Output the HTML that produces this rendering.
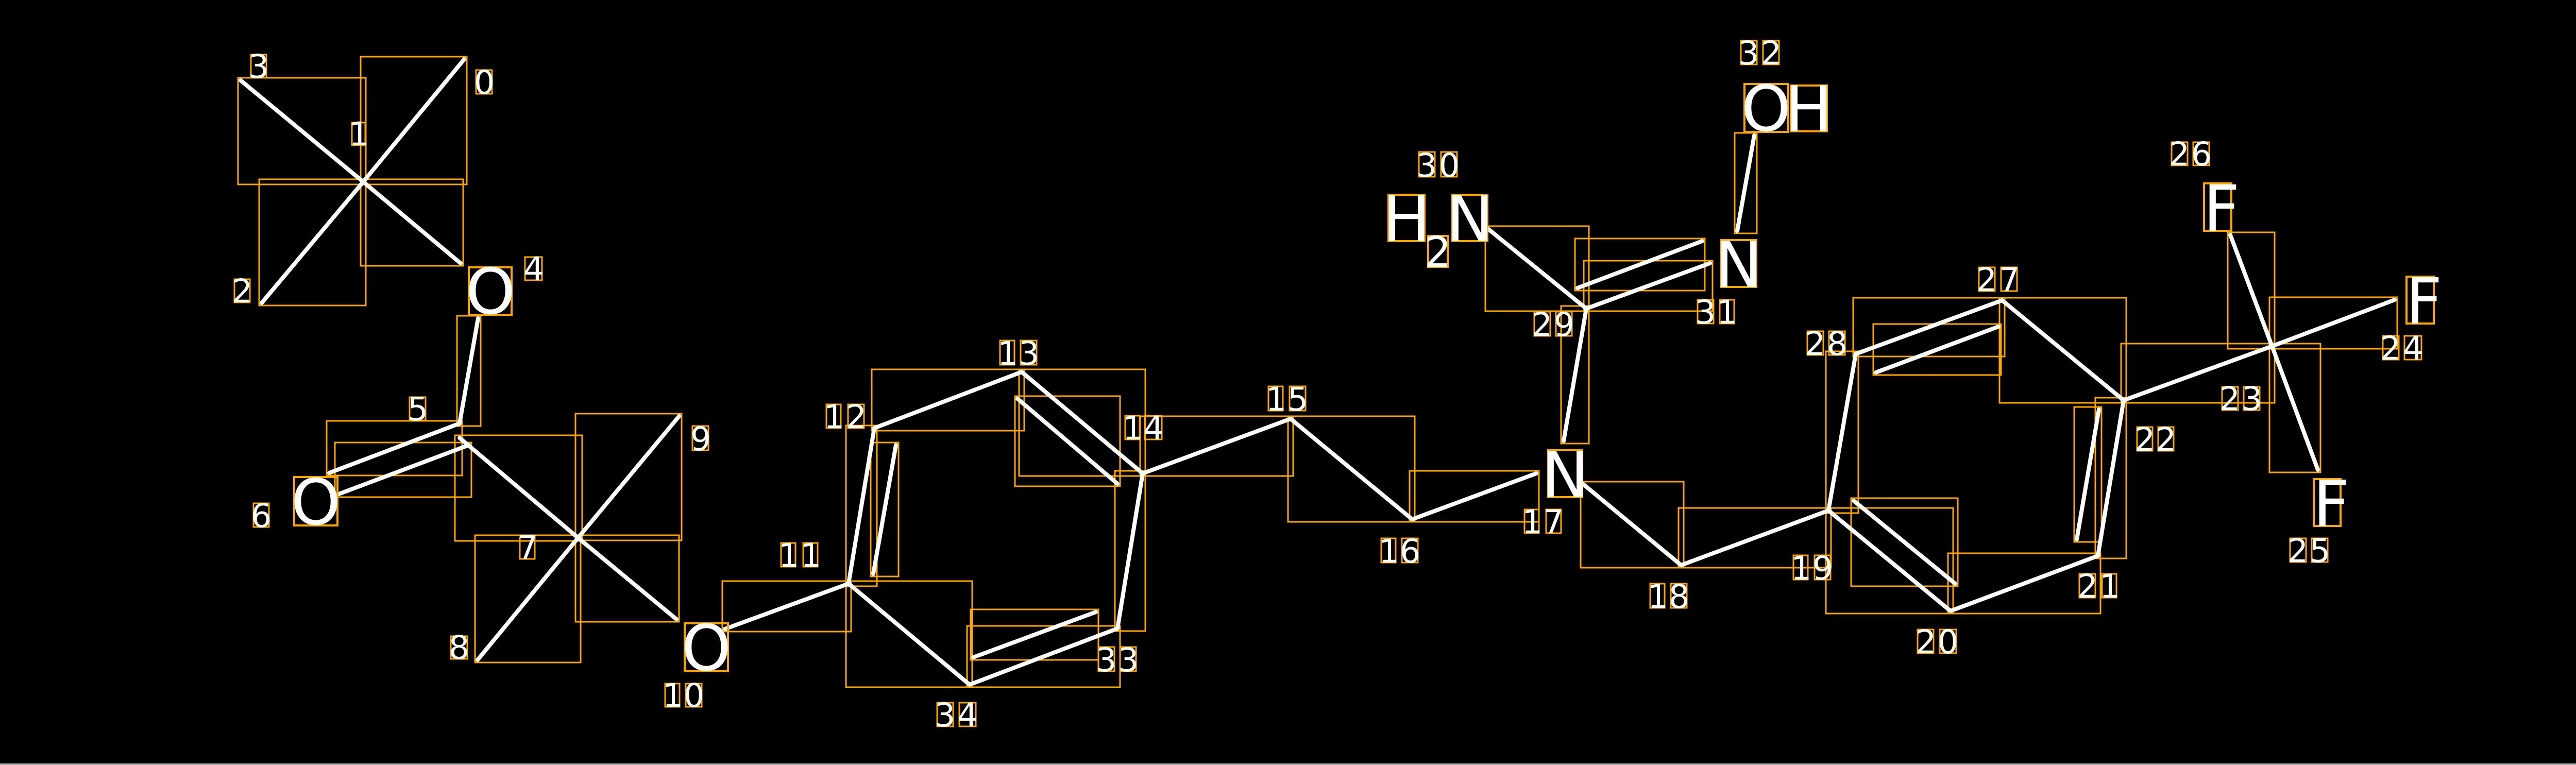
<!DOCTYPE html>
<html><head><meta charset="utf-8"><style>
html,body{margin:0;padding:0;background:#000;}
svg{display:block;}
text{font-family:"DejaVu Sans","Liberation Sans",sans-serif;fill:#fff;}
.d{font-size:63px;text-anchor:middle;}
.a{font-size:123px;text-anchor:middle;}
</style></head><body>
<svg width="5185" height="1485" viewBox="0 0 5185 1485" xmlns="http://www.w3.org/2000/svg">
<rect x="0" y="0" width="5185" height="1485" fill="#000"/>
<rect x="0" y="1482" width="5185" height="3" fill="#aaa"/>
<g fill="none" stroke="#FFA500" stroke-width="3">
<rect x="700" y="110" width="206" height="248"/>
<rect x="462" y="151" width="248" height="207"/>
<rect x="503" y="348" width="207" height="245"/>
<rect x="700" y="348" width="199" height="168"/>
<rect x="887" y="613" width="46" height="214"/>
<rect x="634" y="817" width="263" height="106"/>
<rect x="650" y="859" width="265" height="106"/>
<rect x="883" y="845" width="247" height="205"/>
<rect x="1117" y="803" width="206" height="246"/>
<rect x="922" y="1039" width="205" height="247"/>
<rect x="1117" y="1039" width="201" height="168"/>
<rect x="1402" y="1128" width="250" height="98"/>
<rect x="1642" y="826" width="60" height="312"/>
<rect x="1690" y="859" width="54" height="260"/>
<rect x="1692" y="717" width="296" height="119"/>
<rect x="1978" y="717" width="245" height="207"/>
<rect x="1970" y="769" width="204" height="175"/>
<rect x="2164" y="914" width="59" height="311"/>
<rect x="1877" y="1215" width="297" height="119"/>
<rect x="1884" y="1183" width="248" height="98"/>
<rect x="1642" y="1128" width="245" height="206"/>
<rect x="2213" y="808" width="297" height="116"/>
<rect x="2500" y="808" width="246" height="205"/>
<rect x="2736" y="914" width="251" height="99"/>
<rect x="3030" y="594" width="54" height="267"/>
<rect x="2883" y="439" width="201" height="165"/>
<rect x="3057" y="463" width="252" height="101"/>
<rect x="3074" y="506" width="250" height="98"/>
<rect x="3367" y="258" width="43" height="195"/>
<rect x="3068" y="935" width="200" height="167"/>
<rect x="3258" y="986" width="296" height="116"/>
<rect x="3544" y="682" width="63" height="314"/>
<rect x="3597" y="578" width="294" height="114"/>
<rect x="3636" y="629" width="248" height="99"/>
<rect x="3881" y="578" width="246" height="204"/>
<rect x="4067" y="772" width="60" height="312"/>
<rect x="4026" y="790" width="53" height="262"/>
<rect x="3781" y="1074" width="296" height="117"/>
<rect x="3544" y="986" width="247" height="205"/>
<rect x="3593" y="967" width="207" height="171"/>
<rect x="4117" y="667" width="298" height="115"/>
<rect x="4324" y="451" width="91" height="226"/>
<rect x="4405" y="577" width="248" height="100"/>
<rect x="4405" y="667" width="99" height="250"/>
</g>
<g stroke="#fff" stroke-width="8" stroke-linecap="round">
<line x1="705" y1="353" x2="901" y2="115"/>
<line x1="705" y1="353" x2="467" y2="156"/>
<line x1="705" y1="353" x2="508" y2="588"/>
<line x1="705" y1="353" x2="894" y2="511"/>
<line x1="928" y1="618" x2="892" y2="822"/>
<line x1="639" y1="918" x2="892" y2="822"/>
<line x1="655" y1="960" x2="910" y2="864"/>
<line x1="892" y1="850" x2="1122" y2="1044"/>
<line x1="1122" y1="1044" x2="1318" y2="808"/>
<line x1="1122" y1="1044" x2="927" y2="1281"/>
<line x1="1122" y1="1044" x2="1313" y2="1202"/>
<line x1="1407" y1="1221" x2="1647" y2="1133"/>
<line x1="1647" y1="1133" x2="1697" y2="831"/>
<line x1="1739" y1="864" x2="1695" y2="1114"/>
<line x1="1697" y1="831" x2="1983" y2="722"/>
<line x1="1983" y1="722" x2="2218" y2="919"/>
<line x1="1975" y1="774" x2="2169" y2="939"/>
<line x1="2218" y1="919" x2="2169" y2="1220"/>
<line x1="2169" y1="1220" x2="1882" y2="1329"/>
<line x1="2127" y1="1188" x2="1889" y2="1276"/>
<line x1="1882" y1="1329" x2="1647" y2="1133"/>
<line x1="2218" y1="919" x2="2505" y2="813"/>
<line x1="2505" y1="813" x2="2741" y2="1008"/>
<line x1="2741" y1="1008" x2="2982" y2="919"/>
<line x1="3035" y1="856" x2="3079" y2="599"/>
<line x1="3079" y1="599" x2="2888" y2="444"/>
<line x1="3062" y1="559" x2="3304" y2="468"/>
<line x1="3079" y1="599" x2="3319" y2="511"/>
<line x1="3372" y1="448" x2="3405" y2="263"/>
<line x1="3073" y1="940" x2="3263" y2="1097"/>
<line x1="3263" y1="1097" x2="3549" y2="991"/>
<line x1="3549" y1="991" x2="3602" y2="687"/>
<line x1="3602" y1="687" x2="3886" y2="583"/>
<line x1="3641" y1="723" x2="3879" y2="634"/>
<line x1="3886" y1="583" x2="4122" y2="777"/>
<line x1="4122" y1="777" x2="4072" y2="1079"/>
<line x1="4074" y1="795" x2="4031" y2="1047"/>
<line x1="4072" y1="1079" x2="3786" y2="1186"/>
<line x1="3786" y1="1186" x2="3549" y2="991"/>
<line x1="3598" y1="972" x2="3795" y2="1133"/>
<line x1="4122" y1="777" x2="4410" y2="672"/>
<line x1="4410" y1="672" x2="4329" y2="456"/>
<line x1="4410" y1="672" x2="4648" y2="582"/>
<line x1="4410" y1="672" x2="4499" y2="912"/>
</g>
<g fill="none" stroke="#FFA500" stroke-width="4">
<rect x="910" y="519" width="83" height="92"/>
<rect x="571" y="926" width="84" height="94"/>
<rect x="1329" y="1210" width="84" height="93"/>
<rect x="3005" y="874" width="66" height="91"/>
<rect x="2695" y="378" width="70" height="90"/>
<rect x="2772" y="458" width="38" height="60"/>
<rect x="2819" y="378" width="68" height="90"/>
<rect x="3341" y="466" width="68" height="91"/>
<rect x="3386" y="163" width="85" height="93"/>
<rect x="3476" y="166" width="70" height="89"/>
<rect x="4278" y="356" width="53" height="92"/>
<rect x="4671" y="537" width="53" height="91"/>
<rect x="4491" y="930" width="52" height="91"/>
</g>
<g>
<text class="a" x="952" y="609">O</text>
<text class="a" x="613" y="1018">O</text>
<text class="a" x="1371" y="1301">O</text>
<text class="a" x="3038" y="965">N</text>
<text class="a" x="2730" y="468">H</text>
<text x="2791" y="518" style="font-size:82px;text-anchor:middle">2</text>
<text class="a" x="2853" y="468">N</text>
<text class="a" x="3375" y="557">N</text>
<text class="a" x="3428" y="254">O</text>
<text class="a" x="3511" y="255">H</text>
<text class="a" x="4312" y="448">F</text>
<text class="a" x="4705" y="628">F</text>
<text class="a" x="4525" y="1021">F</text>
</g>
<g fill="none" stroke="#FFA500" stroke-width="3">
<rect x="924" y="136" width="31" height="46"/>
<rect x="683" y="238" width="26" height="44"/>
<rect x="455" y="542" width="30" height="45"/>
<rect x="487" y="106" width="30" height="45"/>
<rect x="1019" y="499" width="33" height="45"/>
<rect x="795" y="771" width="31" height="45"/>
<rect x="492" y="977" width="30" height="46"/>
<rect x="1009" y="1043" width="29" height="42"/>
<rect x="875" y="1235" width="32" height="44"/>
<rect x="1344" y="827" width="31" height="47"/>
<rect x="1291" y="1327" width="28" height="45"/><rect x="1331" y="1327" width="31" height="45"/>
<rect x="1516" y="1054" width="28" height="46"/><rect x="1559" y="1054" width="28" height="46"/>
<rect x="1604" y="785" width="28" height="46"/><rect x="1646" y="785" width="31" height="46"/>
<rect x="1941" y="661" width="28" height="47"/><rect x="1981" y="661" width="31" height="47"/>
<rect x="2184" y="807" width="28" height="46"/><rect x="2222" y="807" width="33" height="46"/>
<rect x="2462" y="750" width="28" height="47"/><rect x="2503" y="750" width="31" height="47"/>
<rect x="2681" y="1045" width="28" height="47"/><rect x="2721" y="1045" width="31" height="47"/>
<rect x="2959" y="989" width="28" height="46"/><rect x="3001" y="989" width="29" height="46"/>
<rect x="3203" y="1133" width="28" height="47"/><rect x="3243" y="1133" width="31" height="47"/>
<rect x="3481" y="1078" width="28" height="47"/><rect x="3522" y="1078" width="31" height="47"/>
<rect x="3722" y="1222" width="31" height="46"/><rect x="3765" y="1222" width="32" height="46"/>
<rect x="4036" y="1114" width="31" height="46"/><rect x="4080" y="1114" width="28" height="46"/>
<rect x="4148" y="829" width="30" height="46"/><rect x="4189" y="829" width="30" height="46"/>
<rect x="4313" y="751" width="31" height="45"/><rect x="4355" y="751" width="31" height="45"/>
<rect x="4625" y="652" width="31" height="46"/><rect x="4667" y="652" width="33" height="46"/>
<rect x="4445" y="1045" width="31" height="46"/><rect x="4487" y="1045" width="31" height="46"/>
<rect x="4215" y="276" width="31" height="45"/><rect x="4257" y="276" width="31" height="45"/>
<rect x="3841" y="519" width="31" height="46"/><rect x="3884" y="519" width="31" height="46"/>
<rect x="3508" y="643" width="31" height="46"/><rect x="3550" y="643" width="31" height="46"/>
<rect x="2978" y="605" width="31" height="47"/><rect x="3020" y="605" width="31" height="47"/>
<rect x="2754" y="295" width="31" height="48"/><rect x="2797" y="295" width="31" height="48"/>
<rect x="3295" y="582" width="31" height="46"/><rect x="3338" y="582" width="28" height="46"/>
<rect x="3379" y="79" width="31" height="46"/><rect x="3422" y="79" width="31" height="46"/>
<rect x="2132" y="1256" width="31" height="47"/><rect x="2174" y="1256" width="31" height="47"/>
<rect x="1819" y="1364" width="31" height="46"/><rect x="1862" y="1364" width="32" height="46"/>
</g>
<g>
<text class="d" x="940" y="182">0</text>
<text class="d" x="697" y="282">1</text>
<text class="d" x="470" y="587">2</text>
<text class="d" x="502" y="151">3</text>
<text class="d" x="1036" y="544">4</text>
<text class="d" x="811" y="816">5</text>
<text class="d" x="507" y="1023">6</text>
<text class="d" x="1024" y="1085">7</text>
<text class="d" x="891" y="1279">8</text>
<text class="d" x="1360" y="874">9</text>
<text class="d" x="1306" y="1372">1</text><text class="d" x="1347" y="1372">0</text>
<text class="d" x="1531" y="1100">1</text><text class="d" x="1574" y="1100">1</text>
<text class="d" x="1619" y="831">1</text><text class="d" x="1662" y="831">2</text>
<text class="d" x="1956" y="708">1</text><text class="d" x="1997" y="708">3</text>
<text class="d" x="2199" y="853">1</text><text class="d" x="2239" y="853">4</text>
<text class="d" x="2477" y="797">1</text><text class="d" x="2519" y="797">5</text>
<text class="d" x="2696" y="1092">1</text><text class="d" x="2737" y="1092">6</text>
<text class="d" x="2974" y="1035">1</text><text class="d" x="3015" y="1035">7</text>
<text class="d" x="3218" y="1180">1</text><text class="d" x="3259" y="1180">8</text>
<text class="d" x="3496" y="1125">1</text><text class="d" x="3538" y="1125">9</text>
<text class="d" x="3738" y="1268">2</text><text class="d" x="3781" y="1268">0</text>
<text class="d" x="4052" y="1160">2</text><text class="d" x="4095" y="1160">1</text>
<text class="d" x="4163" y="875">2</text><text class="d" x="4204" y="875">2</text>
<text class="d" x="4328" y="796">2</text><text class="d" x="4371" y="796">3</text>
<text class="d" x="4640" y="698">2</text><text class="d" x="4684" y="698">4</text>
<text class="d" x="4460" y="1091">2</text><text class="d" x="4503" y="1091">5</text>
<text class="d" x="4230" y="321">2</text><text class="d" x="4273" y="321">6</text>
<text class="d" x="3856" y="565">2</text><text class="d" x="3900" y="565">7</text>
<text class="d" x="3523" y="689">2</text><text class="d" x="3566" y="689">8</text>
<text class="d" x="2993" y="652">2</text><text class="d" x="3036" y="652">9</text>
<text class="d" x="2769" y="343">3</text><text class="d" x="2813" y="343">0</text>
<text class="d" x="3310" y="628">3</text><text class="d" x="3352" y="628">1</text>
<text class="d" x="3394" y="125">3</text><text class="d" x="3438" y="125">2</text>
<text class="d" x="2147" y="1303">3</text><text class="d" x="2190" y="1303">3</text>
<text class="d" x="1834" y="1410">3</text><text class="d" x="1878" y="1410">4</text>
</g>
</svg>
</body></html>
